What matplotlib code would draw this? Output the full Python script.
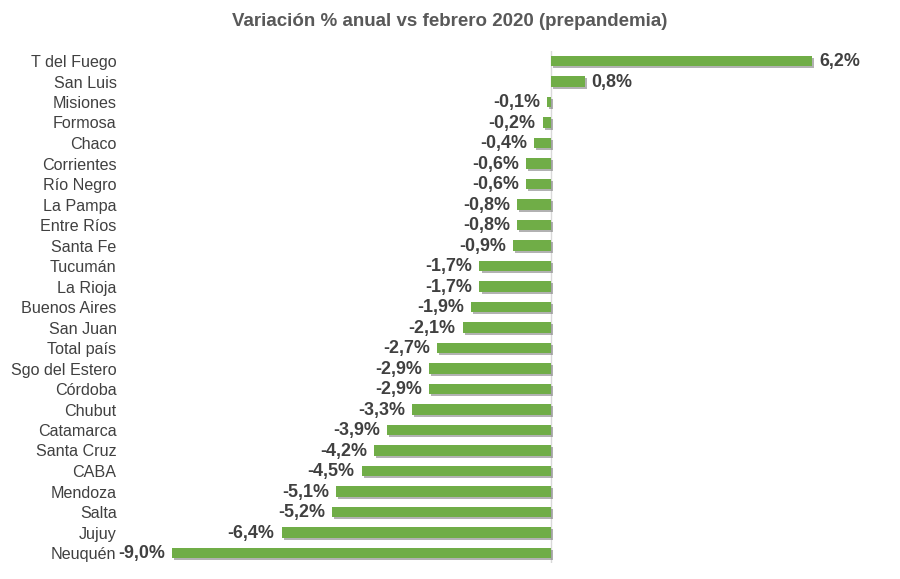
import matplotlib
matplotlib.use('Agg')
import matplotlib.pyplot as plt
import matplotlib.patheffects as pe

provincias = ["T del Fuego", "San Luis", "Misiones", "Formosa", "Chaco", "Corrientes",
              "Río Negro", "La Pampa", "Entre Ríos", "Santa Fe", "Tucumán", "La Rioja",
              "Buenos Aires", "San Juan", "Total país", "Sgo del Estero", "Córdoba",
              "Chubut", "Catamarca", "Santa Cruz", "CABA", "Mendoza", "Salta", "Jujuy",
              "Neuquén"]
variacion = [6.2, 0.8, -0.1, -0.2, -0.4, -0.6, -0.6, -0.8, -0.8, -0.9, -1.7, -1.7,
             -1.9, -2.1, -2.7, -2.9, -2.9, -3.3, -3.9, -4.2, -4.5, -5.1, -5.2, -6.4,
             -9.0]

plt.rcParams['font.family'] = ['Liberation Sans', 'DejaVu Sans']

fig = plt.figure(figsize=(9, 5.79), dpi=100)
# axes placed so that 0 lands at x=551px and rows span y=61..553px
ax = fig.add_axes([120/900, 1 - 563.25/579, 760/900, 512.5/579])

y = list(range(len(provincias)))
bars = ax.barh(y, variacion, height=0.52, color="#70AD47", zorder=3)
for b in bars:
    b.set_path_effects([pe.SimplePatchShadow(offset=(1.5, -1.5), shadow_rgbFace="#7f7f7f", alpha=0.6),
                        pe.Normal()])

ax.set_xlim(-(551 - 120) / 42.1, (880 - 551) / 42.1)
ax.set_ylim(len(provincias) - 0.5, -0.5)
ax.axvline(0, color="#d9d9d9", lw=1, zorder=2)

for yi, v in zip(y, variacion):
    txt = ("%.1f%%" % v).replace(".", ",")
    if v >= 0:
        ax.annotate(txt, (v, yi), xytext=(5, -0.5), textcoords="offset points",
                    ha="left", va="center", fontsize=12.9, fontweight="bold", color="#404040")
    else:
        ax.annotate(txt, (v, yi), xytext=(-5, -0.5), textcoords="offset points",
                    ha="right", va="center", fontsize=12.9, fontweight="bold", color="#404040")

ax.set_yticks(y)
ax.set_yticklabels(provincias, fontsize=11.6, color="#404040")
ax.tick_params(axis="y", length=0, pad=2.5)
ax.set_xticks([])
for s in ax.spines.values():
    s.set_visible(False)

fig.text(0.5, 1 - 22/579, "Variación % anual vs febrero 2020 (prepandemia)", ha="center", va="center",
         fontsize=13.5, fontweight="bold", color="#595959")

fig.savefig("out.png", dpi=100)
